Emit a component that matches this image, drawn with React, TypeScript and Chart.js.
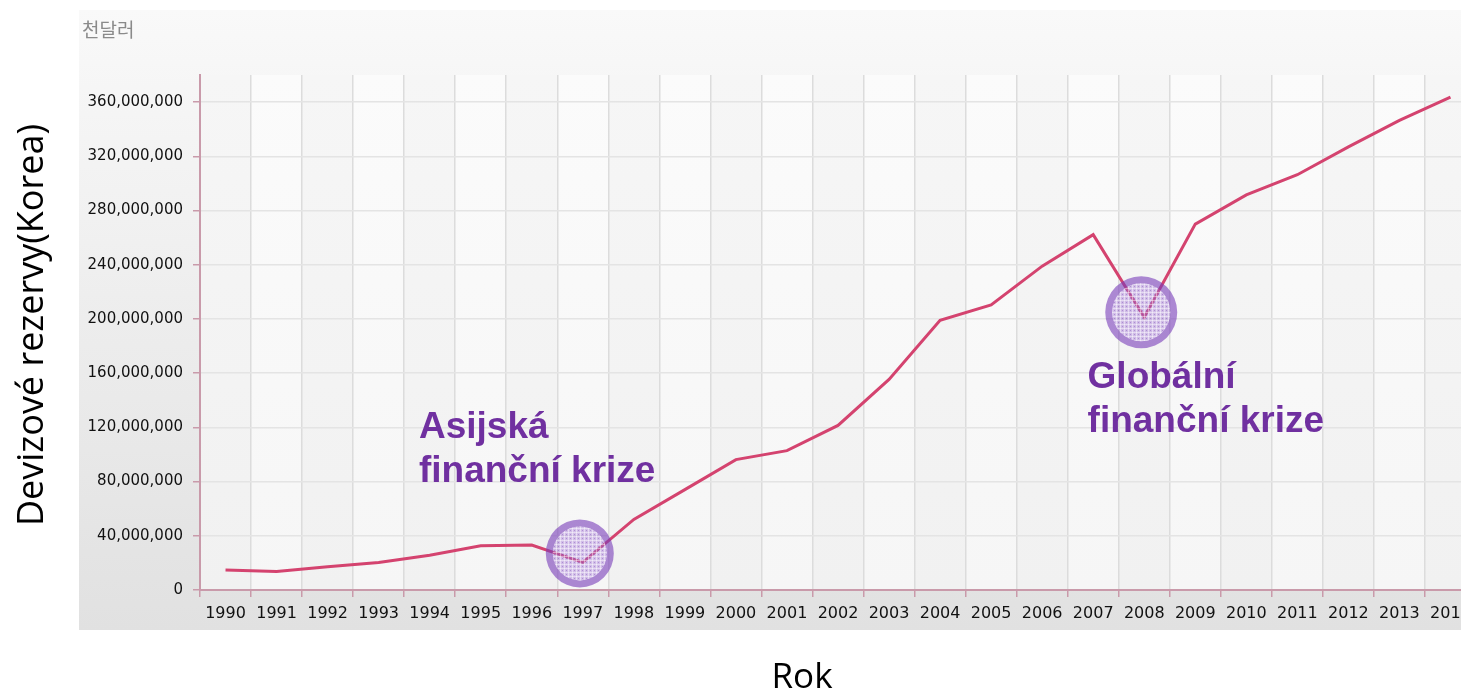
import React, { useEffect, useRef } from "react";
import { Chart, registerables } from "chart.js";

Chart.register(...registerables);

const years = ["1990","1991","1992","1993","1994","1995","1996","1997","1998","1999","2000","2001","2002","2003","2004","2005","2006","2007","2008","2009","2010","2011","2012","2013","2014"];
const reserves = [14822000,13733000,17154000,20262000,25673000,32712000,33237000,20405000,52041000,74055000,96198000,102821000,121413000,155352000,199066000,210391000,238956000,262224000,201223000,269995000,291571000,306402000,326968000,346460000,363593000];
const yTickValues = [0,40000000,80000000,120000000,160000000,200000000,240000000,280000000,320000000,360000000];
const unitLabel = "천달러";
const yTitle = "Devizové rezervy(Korea)";
const xTitle = "Rok";
const crisisIndex = [7, 18];
const crisisCircleValue = [27000000, 205000000];
const crisisLines = [["Asijská", "finanční krize"], ["Globální", "finanční krize"]];
const crisisTextValue = [[119500000, 87000000], [156400000, 124000000]];
const crisisTextIndex = [3.79, 16.89];

const decorPlugin = {
  id: "decor",
  beforeDraw(chart: any) {
    const { ctx, chartArea, scales } = chart;
    ctx.save();
    const g = ctx.createLinearGradient(0, 10, 0, 630);
    g.addColorStop(0, "#f9f9f9");
    g.addColorStop(1, "#e1e1e1");
    ctx.fillStyle = g;
    ctx.fillRect(79, 10, chart.width - 79, 620);
    const x = scales.x;
    const n = years.length;
    for (let i = 0; i < n; i++) {
      const l = x.getPixelForValue(i - 0.5);
      const r = x.getPixelForValue(i + 0.5);
      const gg = ctx.createLinearGradient(0, chartArea.top, 0, chartArea.bottom);
      if (i % 2 === 0) {
        gg.addColorStop(0, "#f6f6f6");
        gg.addColorStop(1, "#f1f1f1");
      } else {
        gg.addColorStop(0, "#fbfbfb");
        gg.addColorStop(1, "#f6f6f6");
      }
      ctx.fillStyle = gg;
      ctx.fillRect(l, chartArea.top, r - l, chartArea.bottom - chartArea.top);
    }
    ctx.fillStyle = "#8a8a8a";
    ctx.font = "19px 'Noto Sans CJK KR'";
    ctx.textAlign = "left";
    ctx.textBaseline = "middle";
    ctx.fillText(unitLabel, 82, 30);
    ctx.restore();
  },
  afterDatasetsDraw(chart: any) {
    const { ctx, scales } = chart;
    const x = scales.x;
    const y = scales.y;
    ctx.save();
    const pc = document.createElement("canvas");
    pc.width = 4; pc.height = 4;
    const pctx = pc.getContext("2d")!;
    pctx.fillStyle = "rgba(255,255,255,0.45)";
    pctx.fillRect(0, 0, 4, 1);
    pctx.fillRect(0, 0, 1, 4);
    pctx.fillStyle = "rgba(110,60,170,0.35)";
    pctx.fillRect(2, 2, 1, 1);
    const pattern = ctx.createPattern(pc, "repeat");
    crisisIndex.forEach((idx, k) => {
      const cx = x.getPixelForValue(idx) - 3;
      const cy = y.getPixelForValue(crisisCircleValue[k]);
      const r = k === 0 ? 34 : 36;
      ctx.beginPath();
      ctx.arc(cx, cy, r, 0, Math.PI * 2);
      ctx.arc(cx, cy, r - 7, 0, Math.PI * 2, true);
      ctx.fillStyle = "rgba(120,60,185,0.6)";
      ctx.fill();
      ctx.beginPath();
      ctx.arc(cx, cy, r - 7, 0, Math.PI * 2);
      ctx.fillStyle = "rgba(165,120,215,0.45)";
      ctx.fill();
      ctx.fillStyle = pattern;
      ctx.fill();
    });
    ctx.fillStyle = "#7030a0";
    ctx.font = "bold 37px 'Liberation Sans', Arial, sans-serif";
    ctx.textAlign = "left";
    ctx.textBaseline = "middle";
    crisisLines.forEach((lines, k) => {
      const tx = x.getPixelForValue(crisisTextIndex[k]);
      lines.forEach((line, j) => {
        ctx.fillText(line, tx, y.getPixelForValue(crisisTextValue[k][j]));
      });
    });
    ctx.restore();
  },
  afterDraw(chart: any) {
    const { ctx } = chart;
    ctx.save();
    ctx.fillStyle = "#000";
    ctx.font = "35px 'Open Sans', sans-serif";
    ctx.textAlign = "center";
    ctx.textBaseline = "middle";
    ctx.fillText(xTitle, 802, 678);
    ctx.translate(33, 325);
    ctx.rotate(-Math.PI / 2);
    ctx.font = "36px 'Open Sans', sans-serif";
    ctx.fillText(yTitle, 0, 0);
    ctx.restore();
  },
};

export default function App() {
  const ref = useRef<HTMLCanvasElement>(null);
  useEffect(() => {
    const canvas = ref.current!;
    const chart = new Chart(canvas, {
      type: "line",
      data: {
        labels: years,
        datasets: [
          {
            data: reserves,
            borderColor: "#d4436f",
            borderWidth: 3,
            pointRadius: 0,
            tension: 0,
            fill: false,
          },
        ],
      },
      options: {
        animation: false,
        responsive: false,
        devicePixelRatio: 1,
        layout: { padding: { top: 75, right: 14, left: 0, bottom: 0 } },
        plugins: { legend: { display: false }, tooltip: { enabled: false } },
        scales: {
          x: {
            offset: true,
            grid: {
              offset: true,
              color: "#dcdcdc",
              tickColor: "#c99aaa",
              tickLength: 7,
              lineWidth: 1.5,
            },
            border: { color: "#c99aaa", width: 2 },
            ticks: {
              color: "#111",
              font: { family: "'DejaVu Sans', sans-serif", size: 16 },
              padding: 7,
              maxRotation: 0,
              autoSkip: false,
            },
            afterFit: (s: any) => { s.height = 105; },
          },
          y: {
            min: 0,
            max: 380000000,
            afterBuildTicks: (s: any) => { s.ticks = yTickValues.map((v) => ({ value: v })); },
            grid: { color: "#e4e4e4", tickColor: "#c99aaa", tickLength: 7, lineWidth: 1.5 },
            border: { color: "#c99aaa", width: 2 },
            ticks: {
              color: "#111",
              font: { family: "'DejaVu Sans', sans-serif", size: 15 },
              padding: 10,
              callback: (v: any) => Number(v).toLocaleString("en-US"),
            },
            afterFit: (s: any) => { s.width = 200; },
          },
        },
      },
      plugins: [decorPlugin],
    });
    return () => chart.destroy();
  }, []);
  return (
    <div style={{ position: "absolute", left: 0, top: 0, width: 1461, height: 695, overflow: "hidden", background: "#fff" }}>
      <canvas ref={ref} width={1490} height={695} style={{ width: 1490, height: 695, display: "block" }} />
    </div>
  );
}
